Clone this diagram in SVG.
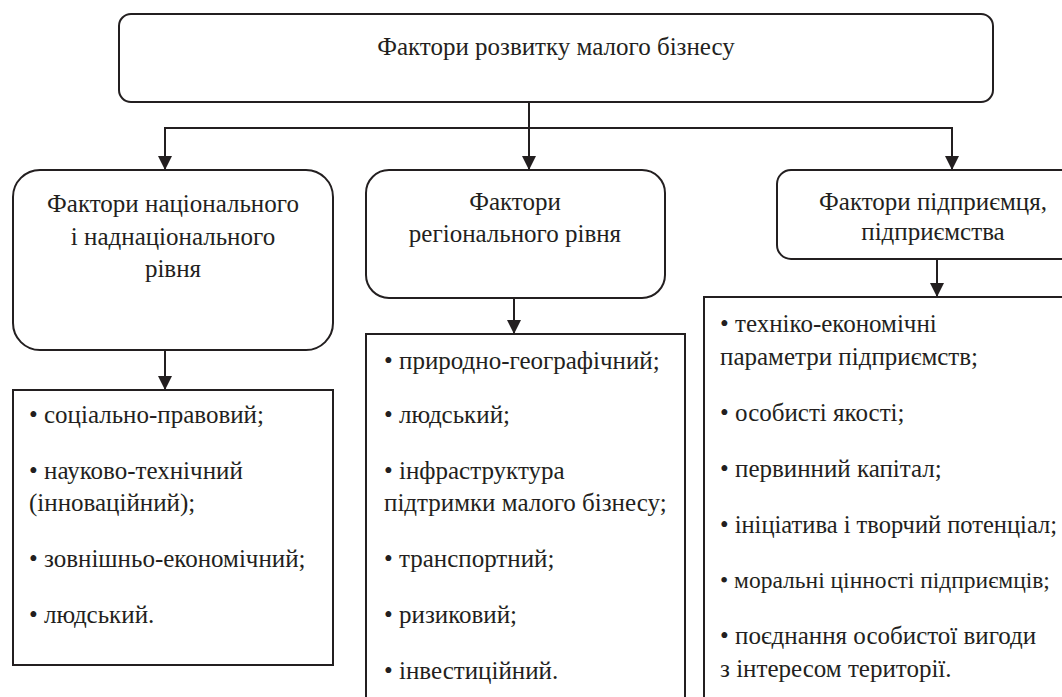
<svg xmlns="http://www.w3.org/2000/svg" width="1062" height="697" viewBox="0 0 1062 697">
<defs>
<style>
.box{fill:#fff;stroke:#231f20;stroke-width:2}
.t{font-family:'Liberation Serif','Times New Roman',serif;font-size:25px;fill:#231f20}
.c{text-anchor:middle}
.ln{fill:none;stroke:#231f20;stroke-width:2}
</style>
<marker id="ah" markerUnits="userSpaceOnUse" markerWidth="14" markerHeight="14" viewBox="0 0 14 14" refX="14" refY="7" orient="auto-start-reverse">
<path d="M0,0 L14,7 L0,14 Z" fill="#231f20"/>
</marker>
</defs>
<rect width="1062" height="697" fill="#fff"/>
<g id="connectors">
<path class="ln" d="M529,102 V170" marker-end="url(#ah)"/>
<path class="ln" d="M165,170 V128 H952 V170" marker-start="url(#ah)" marker-end="url(#ah)"/>
<path class="ln" d="M165,350 V390" marker-end="url(#ah)"/>
<path class="ln" d="M514,298 V334" marker-end="url(#ah)"/>
<path class="ln" d="M937,259 V297" marker-end="url(#ah)"/>
</g>
<g id="root">
<rect class="box" x="119" y="14" width="874" height="88" rx="12"/>
<text class="t c" x="556" y="55">Фактори розвитку малого бізнесу</text>
</g>
<g id="national">
<rect class="box" x="13" y="170" width="320" height="180" rx="27"/>
<text class="t c" x="173" y="212">Фактори національного</text>
<text class="t c" x="173" y="245">і наднаціонального</text>
<text class="t c" x="173" y="277">рівня</text>
</g>
<g id="regional">
<rect class="box" x="366" y="170" width="299" height="128" rx="23"/>
<text class="t c" x="515" y="210">Фактори</text>
<text class="t c" x="515" y="242">регіонального рівня</text>
</g>
<g id="entrepreneur">
<rect class="box" x="777" y="170" width="320" height="89" rx="14"/>
<text class="t c" x="933" y="210">Фактори підприємця,</text>
<text class="t c" x="933" y="240">підприємства</text>
</g>
<g id="national-list">
<rect class="box" x="13" y="390" width="320" height="275"/>
<text class="t" x="29" y="423">• соціально-правовий;</text>
<text class="t" x="29" y="479">• науково-технічний</text>
<text class="t" x="29" y="511">(інноваційний);</text>
<text class="t" x="29" y="567">• зовнішньо-економічний;</text>
<text class="t" x="29" y="623">• людський.</text>
</g>
<g id="regional-list">
<rect class="box" x="366" y="334" width="319" height="380"/>
<text class="t" x="384" y="369">• природно-географічний;</text>
<text class="t" x="384" y="423">• людський;</text>
<text class="t" x="384" y="479">• інфраструктура</text>
<text class="t" x="384" y="511">підтримки малого бізнесу;</text>
<text class="t" x="384" y="567">• транспортний;</text>
<text class="t" x="384" y="623">• ризиковий;</text>
<text class="t" x="384" y="679">• інвестиційний.</text>
</g>
<g id="entrepreneur-list">
<rect class="box" x="704" y="297" width="400" height="420"/>
<text class="t" x="720" y="332">• техніко-економічні</text>
<text class="t" x="720" y="365">параметри підприємств;</text>
<text class="t" x="720" y="421">• особисті якості;</text>
<text class="t" x="720" y="477">• первинний капітал;</text>
<text class="t" x="720" y="533" style="font-size:24.5px">• ініціатива і творчий потенціал;</text>
<text class="t" x="720" y="588" style="font-size:23.5px">• моральні цінності підприємців;</text>
<text class="t" x="720" y="644">• поєднання особистої вигоди</text>
<text class="t" x="720" y="677">з інтересом території.</text>
</g>
</svg>
